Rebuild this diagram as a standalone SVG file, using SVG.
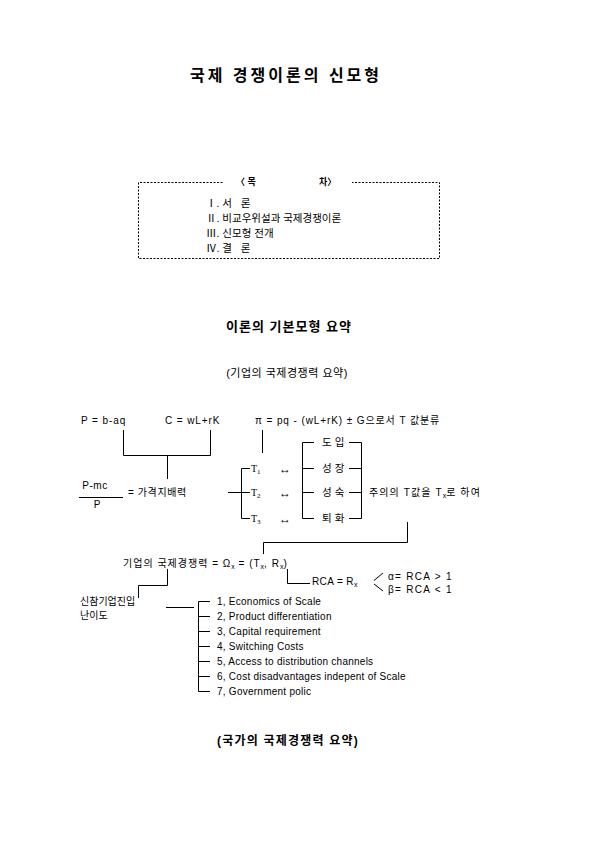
<svg xmlns="http://www.w3.org/2000/svg" width="595" height="842" viewBox="0 0 595 842">
<style>
text{font-family:"Liberation Sans","Noto Sans CJK KR",sans-serif;fill:#000;white-space:pre;}
.t{font-size:10px;}
.w{letter-spacing:0.9px;}
.li{letter-spacing:0.25px;}
.s{font-size:7px;letter-spacing:0;}
.ser{font-family:"Liberation Serif","Noto Sans CJK KR",serif;}
.st{font-size:10.5px;letter-spacing:3px;}
.ln{stroke:#000;stroke-width:1;fill:none;}
.dash{stroke:#000;stroke-width:1;fill:none;stroke-dasharray:2,1.5;}
</style>
<rect width="595" height="842" fill="#fff"/>
<g id="title"><text x="286" y="81" text-anchor="middle" font-size="16" font-weight="bold" letter-spacing="3">국제 경쟁이론의 신모형</text></g>
<g id="toc">
<path class="dash" d="M222.5,182.5H138.5V258.5H439.5V182.5H352"/>
<text x="236" y="185" font-size="9" font-weight="bold">〈 목</text>
<text x="319" y="185" font-size="9" font-weight="bold">차〉</text>
<text x="206" y="207" font-size="10.5">Ⅰ. 서   론</text>
<text x="206" y="222" font-size="10.5">Ⅱ. 비교우위설과 국제경쟁이론</text>
<text x="206" y="237" font-size="10.5">Ⅲ. 신모형 전개</text>
<text x="206" y="252" font-size="10.5">Ⅳ. 결   론</text>
</g>
<g id="heading"><text x="289" y="331" text-anchor="middle" font-size="13" font-weight="bold" letter-spacing="1">이론의 기본모형 요약</text></g>
<g id="subheading"><text x="287" y="377" text-anchor="middle" font-size="11" letter-spacing="0.5">(기업의 국제경쟁력 요약)</text></g>
<g id="connectors">
<path class="ln" d="M123.5,430V455.5H210.5V430M167.5,455.5V479"/>
<path class="ln" d="M79,497.5H123"/>
<path class="ln" d="M262.5,430V453"/>
<path class="ln" d="M228,492.5H250M250,468.5H241.5V518.5H250"/>
<path class="ln" d="M314,442.5H302.5V518.5H314M302.5,468.5H314M302.5,492.5H314"/>
<path class="ln" d="M349,442.5H361.5V518.5H349M349,468.5H361.5M349,492.5H361.5"/>
<path class="ln" d="M407.5,522V542.5H263.5V554"/>
<path class="ln" d="M167.5,569V585.5H138.5V598"/>
<path class="ln" d="M287.5,569V583.5H310"/>
<path class="ln" d="M383,573L374,580.5M374,584L383,591"/>
<path class="ln" d="M166,607.5H194"/>
<path class="ln" d="M210,601.5H198.5V691.5H210M198.5,616.5H210M198.5,631.5H210M198.5,646.5H210M198.5,661.5H210M198.5,676.5H210"/>
</g>
<g id="n-price"><text class="t w" x="81" y="424">P = b-aq</text></g>
<g id="n-cost"><text class="t w" x="165" y="424">C = wL+rK</text></g>
<g id="n-profit"><text class="t w" x="255" y="424">π = pq - (wL+rK) ± G으로서 T 값분류</text></g>
<g id="n-power">
<text class="t" x="95" y="489" text-anchor="middle" letter-spacing="0.5">P-mc</text>
<text class="t" x="97" y="508" text-anchor="middle">P</text>
<text class="t" x="128" y="496" letter-spacing="0.6">= 가격지배력</text>
</g>
<g id="n-t">
<text class="t ser" x="251" y="472">T<tspan class="s" dy="2">1</tspan></text>
<text class="t ser" x="251" y="496">T<tspan class="s" dy="2">2</tspan></text>
<text class="t ser" x="251" y="522">T<tspan class="s" dy="2">3</tspan></text>
<text x="279" y="473" font-size="12">↔</text>
<text x="279" y="497" font-size="12">↔</text>
<text x="279" y="523" font-size="12">↔</text>
</g>
<g id="n-stage">
<text class="st" x="322" y="446">도입</text>
<text class="st" x="322" y="472">성장</text>
<text class="st" x="322" y="496">성숙</text>
<text class="st" x="322" y="522">퇴화</text>
</g>
<g id="n-tx"><text class="t" x="369" y="496" letter-spacing="1.1">주의의 T값을 T<tspan class="s" dy="2">x</tspan><tspan dy="-2">로 하여</tspan></text></g>
<g id="n-firm"><text class="t" x="123" y="567" letter-spacing="1">기업의 국제경쟁력 = Ω<tspan class="s" dy="2">x</tspan><tspan dy="-2"> = (T</tspan><tspan class="s" dy="2">x</tspan><tspan dy="-2">, R</tspan><tspan class="s" dy="2">x</tspan><tspan dy="-2">)</tspan></text></g>
<g id="n-rca">
<text class="t" x="312" y="585" letter-spacing="0.4">RCA = R<tspan class="s" dy="2">x</tspan></text>
<text class="t" x="388" y="580" letter-spacing="1.3">α= RCA &gt; 1</text>
<text class="t" x="388" y="593" letter-spacing="1.3">β= RCA &lt; 1</text>
</g>
<g id="n-entry">
<text class="t" x="80" y="605">신참기업진입</text>
<text class="t" x="80" y="619">난이도</text>
</g>
<g id="n-list">
<text class="t li" x="217" y="605">1, Economics of Scale</text>
<text class="t li" x="217" y="620">2, Product differentiation</text>
<text class="t li" x="217" y="635">3, Capital requirement</text>
<text class="t li" x="217" y="650">4, Switching Costs</text>
<text class="t li" x="217" y="665">5, Access to distribution channels</text>
<text class="t li" x="217" y="680">6, Cost disadvantages indepent of Scale</text>
<text class="t li" x="217" y="695">7, Government polic</text>
</g>
<g id="footer"><text x="288" y="745" text-anchor="middle" font-size="12" font-weight="bold" letter-spacing="1.2">(국가의 국제경쟁력 요약)</text></g>
</svg>
